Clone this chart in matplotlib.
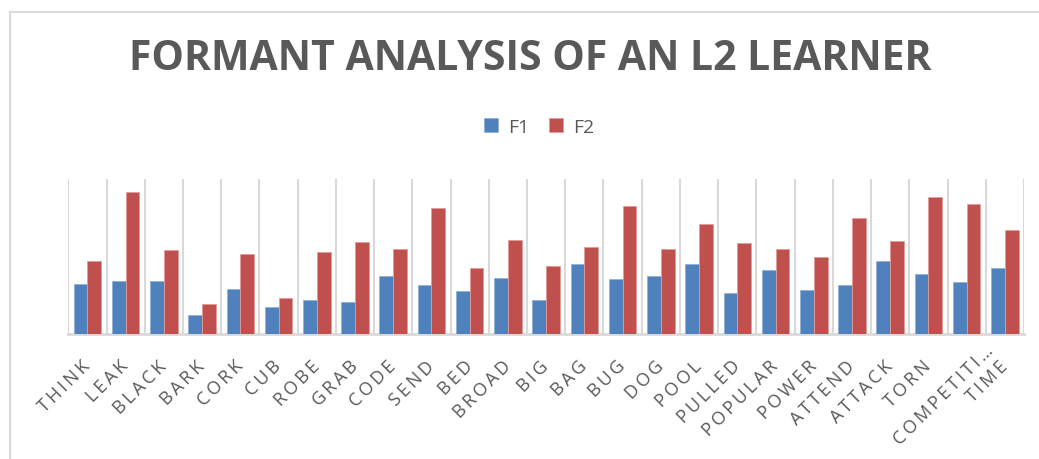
import numpy as np
import matplotlib.pyplot as plt
from matplotlib.patches import Rectangle
from matplotlib.transforms import ScaledTranslation

# Formant values (Hz)
words = ['THINK', 'LEAK', 'BLACK', 'BARK', 'CORK', 'CUB', 'ROBE', 'GRAB',
         'CODE', 'SEND', 'BED', 'BROAD', 'BIG', 'BAG', 'BUG', 'DOG', 'POOL',
         'PULLED', 'POPULAR', 'POWER', 'ATTEND', 'ATTACK', 'TORN', 'COMPETITI…',
         'TIME']
f1 = [800, 845, 845, 300, 715, 435, 540, 515, 930, 795, 690, 900,
      545, 1125, 880, 930, 1125, 650, 1025, 700, 780, 1180, 970, 835, 1055]
f2 = [1180, 2295, 1350, 475, 1285, 575, 1320, 1480, 1365, 2035, 1060, 1510,
      1095, 1395, 2070, 1365, 1765, 1465, 1375, 1240, 1870, 1500, 2210, 2100, 1675]
title = 'FORMANT ANALYSIS OF AN L2 LEARNER'

blue = '#4F81BD'
red = '#C0504D'
grey = '#595959'
grid = '#D9D9D9'
fams = ['Open Sans', 'DejaVu Sans']


def spaced(s, gap):
    # imitate Excel's character spacing
    return gap.join(s)


fig = plt.figure(figsize=(10.39, 4.60), dpi=100)

# chart border
fig.patches.append(Rectangle((10 / 1039, -0.1), 1.2, 1 - 13 / 460 + 0.1,
                             transform=fig.transFigure, fill=False,
                             edgecolor=grid, linewidth=1.5))

ax = fig.add_axes([68.3 / 1039, (460 - 334.7) / 460, 955.7 / 1039, 154.7 / 460])

n = len(words)
x = np.arange(n)
w = 0.36
ax.bar(x - w / 2, f1, w, color=blue, edgecolor='#8FB0D8', linewidth=0.6, label='F1', zorder=3)
ax.bar(x + w / 2, f2, w, color=red, edgecolor='#E39B99', linewidth=0.6, label='F2', zorder=3)

ax.set_xlim(-0.5, n - 0.5)
ax.set_ylim(0, 2500)
ax.set_yticks([])
ax.set_xticks(np.arange(n + 1) - 0.5, minor=True)
ax.xaxis.grid(True, which='minor', color=grid, linewidth=1.5, zorder=0)
ax.tick_params(axis='x', which='both', length=0)
ax.set_xticks(x)
labels = ax.set_xticklabels([spaced(t, '\u2009') for t in words], rotation=45,
                            ha='right', va='center', rotation_mode='anchor',
                            fontsize=13, color=grey, family=fams)
ax.tick_params(axis='x', pad=21)
# the truncated label sits higher up, as Excel draws it
lab = labels[words.index('COMPETITI…')]
lab.set_transform(lab.get_transform() + ScaledTranslation(0.24, 0.16, fig.dpi_scale_trans))
for s in ['top', 'right', 'left']:
    ax.spines[s].set_visible(False)
ax.spines['bottom'].set_color(grid)
ax.spines['bottom'].set_linewidth(2)

fig.text(530 / 1039, 1 - 60 / 460, title,
         ha='center', va='center', fontsize=29.5, fontweight='bold', color=grey,
         family=fams)

ax.legend(loc='center', bbox_to_anchor=(539 / 1039, 1 - 128 / 460),
          bbox_transform=fig.transFigure, ncol=2, frameon=False,
          prop={'family': fams, 'size': 14}, labelcolor=grey,
          handlelength=0.75, handleheight=0.75, columnspacing=1.0, handletextpad=0.5)

fig.savefig('out.png', dpi=100)
